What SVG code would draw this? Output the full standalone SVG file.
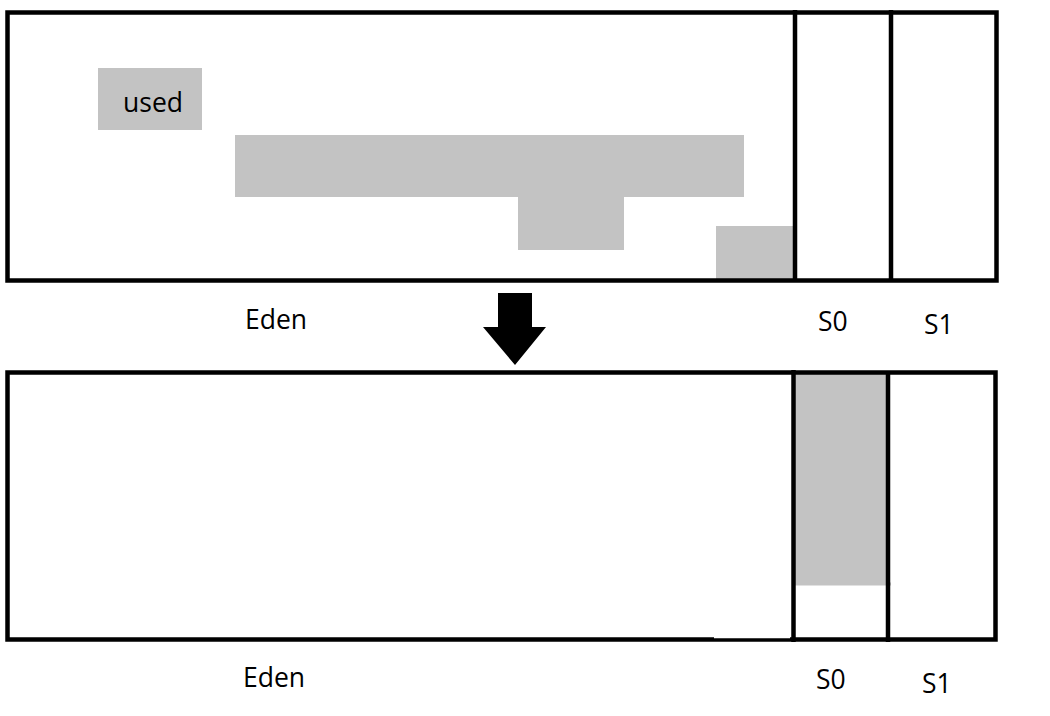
<svg xmlns="http://www.w3.org/2000/svg" width="1050" height="716" viewBox="0 0 1050 716">
<style>
.box{fill:none;stroke:#000;stroke-width:4.5}
.used{fill:#c3c3c3}
.lbl{font-family:"Open Sans","Noto Sans",sans-serif;font-size:26.5px;fill:#000}
</style>
<rect width="1050" height="716" fill="#fff"/>
<g id="top">
<rect class="used" x="98" y="68" width="104" height="62"/>
<text class="lbl" x="123" y="112">used</text>
<rect class="used" x="235" y="135" width="509" height="62"/>
<rect class="used" x="518" y="197" width="106" height="53"/>
<rect class="used" x="716" y="226" width="77" height="54"/>
<rect class="box" x="7.5" y="12.5" width="989" height="268"/>
<line class="box" x1="795" y1="10" x2="795" y2="281"/>
<line class="box" x1="891" y1="10" x2="891" y2="281"/>
<text class="lbl" x="245" y="329">Eden</text>
<text class="lbl" x="818" y="331">S0</text>
<text class="lbl" x="924" y="334">S1</text>
</g>
<g id="arrow">
<path d="M498,293 H532 V327 H546 L515,365 L483,327 H498 Z" fill="#000"/>
</g>
<g id="bottom">
<rect class="used" x="795" y="373" width="93" height="212"/>
<line x1="795" y1="584" x2="891" y2="584" stroke="#c3c3c3" stroke-width="3"/>
<rect class="box" x="7.5" y="372.5" width="988" height="267"/>
<line class="box" x1="793.5" y1="370" x2="793.5" y2="642"/>
<line class="box" x1="888" y1="372" x2="888" y2="642"/>
<line x1="714" y1="637.5" x2="790" y2="637.5" stroke="#fff" stroke-width="1.5"/>
<text class="lbl" x="243" y="687">Eden</text>
<text class="lbl" x="816" y="689">S0</text>
<text class="lbl" x="922" y="693">S1</text>
</g>
</svg>
